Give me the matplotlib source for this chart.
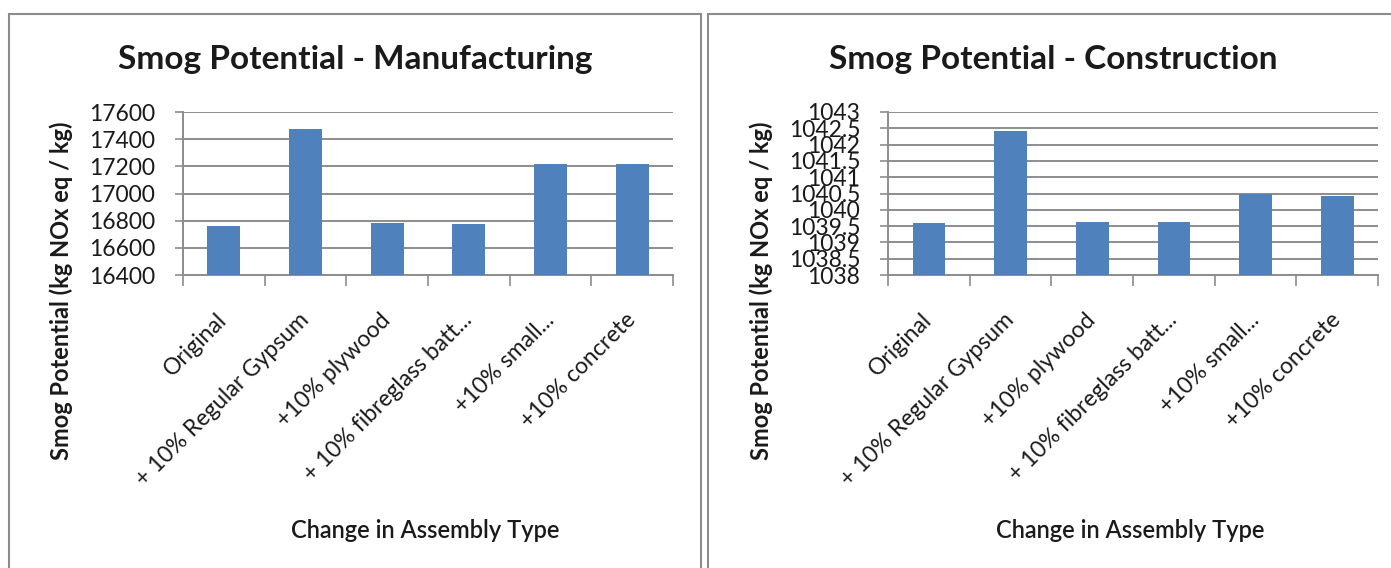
import matplotlib
matplotlib.use("Agg")
import matplotlib.pyplot as plt
from matplotlib.patches import Rectangle
from matplotlib.ticker import FuncFormatter

plt.rcParams["font.family"] = ["Lato", "DejaVu Sans"]

categories = [
    "Original",
    "+ 10% Regular Gypsum",
    "+10% plywood",
    "+ 10% fibreglass batt...",
    "+10% small...",
    "+10% concrete",
]

manufacturing = [16764, 17473, 16786, 16779, 17214, 17214]
construction = [1039.58, 1042.41, 1039.64, 1039.64, 1040.50, 1040.42]

manu_ticks = [16400, 16600, 16800, 17000, 17200, 17400, 17600]
cons_ticks = [1038, 1038.5, 1039, 1039.5, 1040, 1040.5, 1041, 1041.5, 1042, 1042.5, 1043]

BAR_COLOR = "#4F81BD"
GRID_COLOR = "#8C8C8C"
BORDER_COLOR = "#8C8C8C"
TEXT_COLOR = "#1A1A1A"

W, H = 1391, 568
fig = plt.figure(figsize=(W / 100, H / 100), dpi=100)
fig.patch.set_facecolor("white")


def px(x0, y0, x1, y1):
    # pixel box (top-left origin) -> figure fraction rect
    return [x0 / W, 1 - y1 / H, (x1 - x0) / W, (y1 - y0) / H]


# chart frames
fig.patches.append(Rectangle((9 / W, -0.1), (701 - 9) / W, 1.1 - 14 / H,
                             transform=fig.transFigure, fill=False,
                             edgecolor=BORDER_COLOR, linewidth=1.5))
fig.patches.append(Rectangle((708 / W, -0.1), 0.5, 1.1 - 14 / H,
                             transform=fig.transFigure, fill=False,
                             edgecolor=BORDER_COLOR, linewidth=1.5))

panels = [
    dict(rect=px(183, 112, 673, 275), values=manufacturing, ticks=manu_ticks,
         title="Smog Potential - Manufacturing", title_x=355,
         xlabel_x=425, ylabel_x=61),
    dict(rect=px(888, 112, 1378, 275), values=construction, ticks=cons_ticks,
         title="Smog Potential - Construction", title_x=1053,
         xlabel_x=1130, ylabel_x=761),
]

for p in panels:
    ax = fig.add_axes(p["rect"])
    x = range(len(categories))
    ax.bar(x, p["values"], width=0.4, color=BAR_COLOR, zorder=3)
    ax.set_xlim(-0.5, len(categories) - 0.5)
    ax.set_ylim(p["ticks"][0], p["ticks"][-1])
    ax.set_yticks(p["ticks"])
    ax.yaxis.set_major_formatter(FuncFormatter(lambda v, _: "%g" % v))
    ax.yaxis.grid(True, color=GRID_COLOR, linewidth=1.4, zorder=0)
    ax.tick_params(axis="y", length=6, width=1.2, color=GRID_COLOR,
                   labelsize=16.5, pad=14, labelcolor=TEXT_COLOR)

    ax.set_xticks(list(x))
    ax.set_xticklabels(categories, rotation=45, ha="right", va="center",
                       rotation_mode="anchor", fontsize=16.5, color=TEXT_COLOR)
    ax.tick_params(axis="x", which="major", length=0, pad=30)
    ax.set_xticks([i - 0.5 for i in range(len(categories) + 1)], minor=True)
    ax.tick_params(axis="x", which="minor", length=8, width=1.2,
                   color=GRID_COLOR)

    for side in ("top", "right"):
        ax.spines[side].set_visible(False)
    for side in ("left", "bottom"):
        ax.spines[side].set_color(GRID_COLOR)
        ax.spines[side].set_linewidth(1.4)

    fig.text(p["title_x"] / W, 1 - 60 / H, p["title"], ha="center",
             va="center", fontsize=24, fontweight="bold", color=TEXT_COLOR)
    fig.text(p["xlabel_x"] / W, 1 - 530 / H, "Change in Assembly Type",
             ha="center", va="center", fontsize=17, fontweight="semibold",
             color=TEXT_COLOR)
    fig.text(p["ylabel_x"] / W, 1 - 291 / H, "Smog Potential (kg NOx eq / kg)",
             ha="center", va="center", rotation=90, fontsize=17,
             fontweight="bold", color=TEXT_COLOR)

fig.savefig("out.png", dpi=100)
